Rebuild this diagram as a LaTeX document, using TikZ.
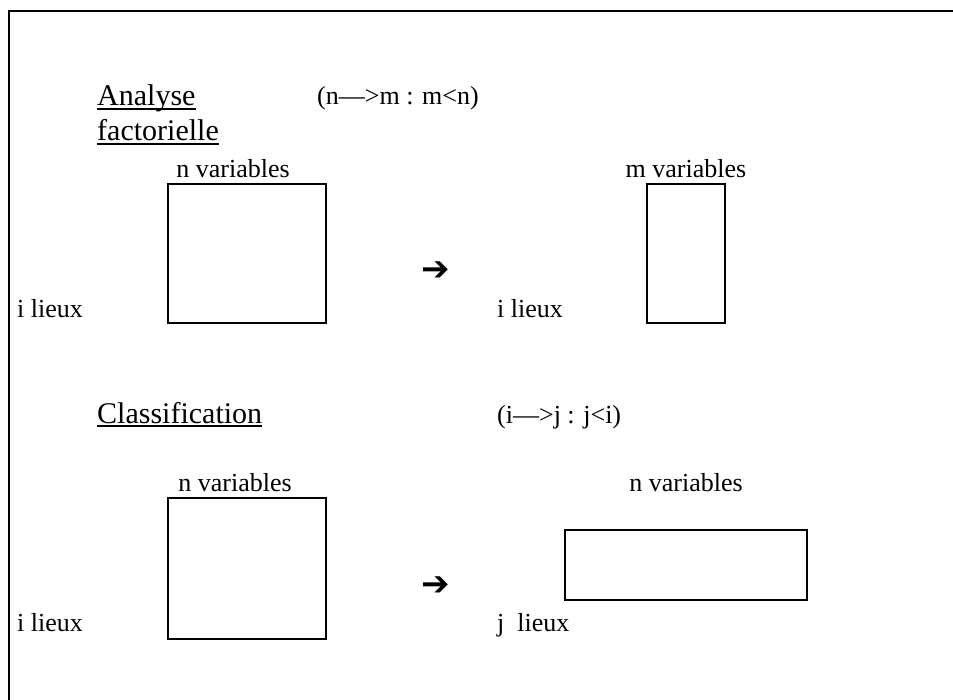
\documentclass[tikz,border=0pt]{standalone}
\usepackage{fontspec}
\setmainfont{Liberation Serif}
\newfontfamily\arrowfont{DejaVu Sans}
\usetikzlibrary{positioning}

\begin{document}
\begin{tikzpicture}[x=1pt, y=-1pt,
    head/.style={inner sep=0pt, anchor=base west, font=\fontsize{30}{34}\selectfont},
    formule/.style={inner sep=0pt, anchor=base west, font=\fontsize{26}{30}\selectfont},
    lbl/.style={inner sep=0pt, font=\fontsize{26}{30}\selectfont},
    tableau/.style={draw, line width=1.2pt, inner sep=0pt},
    fleche/.style={inner sep=0pt, font=\arrowfont\fontsize{34}{38}\selectfont},
    soul/.style={line width=1.1pt}
  ]
    \useasboundingbox (0,0) rectangle (953,700);
    \draw[line width=1.6pt] (953,11) -- (9,11) -- (9,700);

    % analyse factorielle
    \node[head] (ana) at (97,106) {Analyse};
    \node[head] (fac) at (97,141) {factorielle};
    \draw[soul] ([yshift=-3pt]ana.base west) -- ([yshift=-3pt]ana.base east);
    \draw[soul] ([yshift=-3pt]fac.base west) -- ([yshift=-3pt]fac.base east);
    \node[formule] (f1) at (317,105) {(n—>m : m<n)};

    \node[tableau, minimum width=158pt, minimum height=139pt] (t1) at (247,253.5) {};
    \node[tableau, minimum width=78pt, minimum height=139pt] (t2) at (686,253.5) {};
    \node[lbl, above=5pt of t1, xshift=-14pt] (v1) {n variables};
    \node[lbl, above=5pt of t2] (v2) {m variables};
    \node[lbl, anchor=base west] (l1) at (17,318) {i lieux};
    \node[lbl, anchor=base west] (l2) at (497,318) {i lieux};
    \node[fleche] (a1) at (436,271) {➔};

    % classification
    \node[head] (cla) at (97,423) {Classification};
    \draw[soul] ([yshift=-3pt]cla.base west) -- ([yshift=-3pt]cla.base east);
    \node[formule] (f2) at (497,423) {(i—>j : j<i)};

    \node[tableau, minimum width=158pt, minimum height=141pt] (t3) at (247,568.5) {};
    \node[tableau, minimum width=242pt, minimum height=70pt] (t4) at (686,565) {};
    \node[lbl, above=5pt of t3, xshift=-12pt] (v3) {n variables};
    \node[lbl, above=37pt of t4] (v4) {n variables};
    \node[lbl, anchor=base west] (l3) at (17,631) {i lieux};
    \node[lbl, anchor=base west] (l4) at (497,631) {j\ \ lieux};
    \node[fleche] (a2) at (436,586) {➔};
  \end{tikzpicture}
\end{document}
